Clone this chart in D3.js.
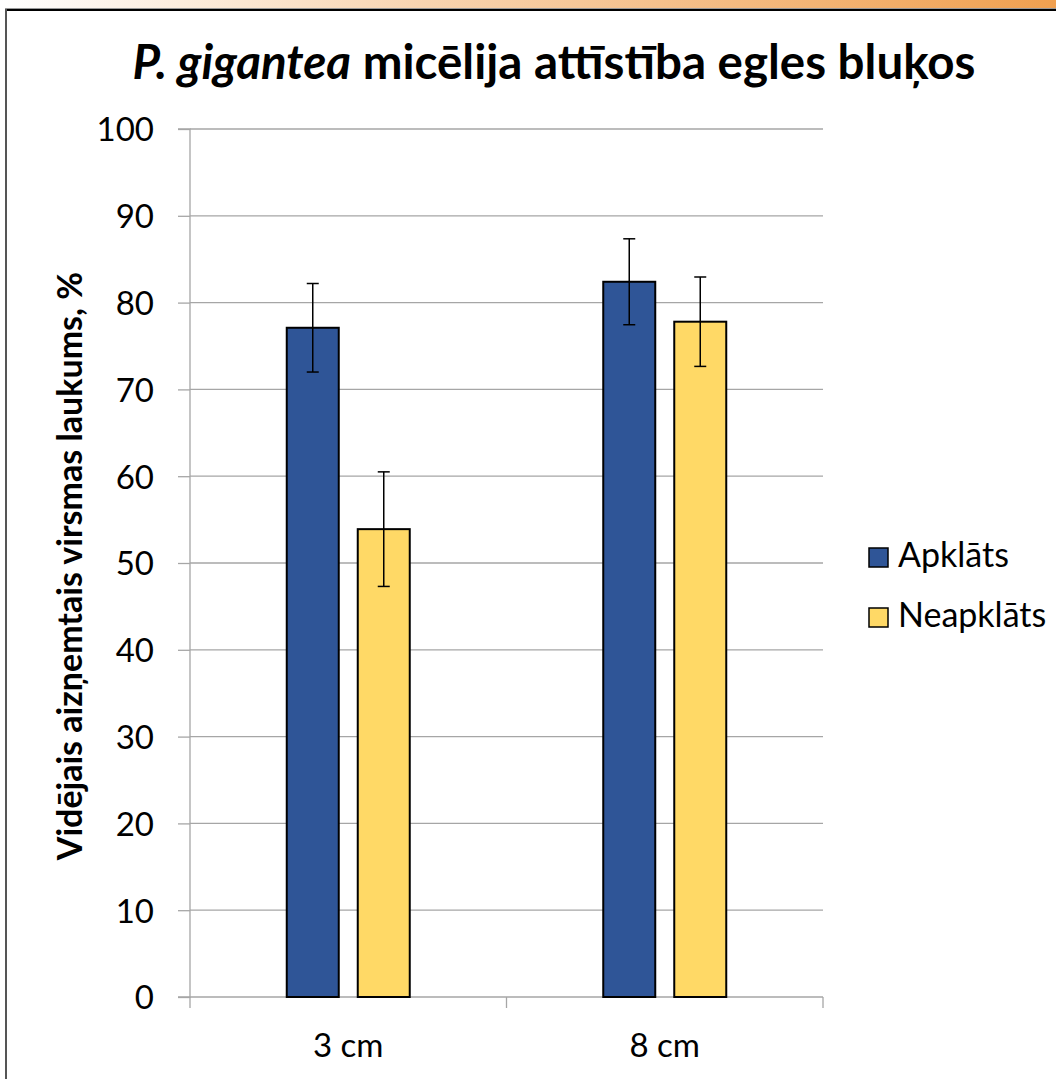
<!DOCTYPE html>
<html><head><meta charset="utf-8">
<script src="https://cdn.jsdelivr.net/npm/d3@7"></script>
<style>body{margin:0;background:#fff;}svg{display:block;}</style>
</head><body>
<script>
const categories = ["3 cm", "8 cm"];
const seriesNames = ["Apklāts", "Neapklāts"];
const apklats = [77.1, 82.4];
const neapklats = [53.9, 77.8];
const apklatsErr = [5.1, 4.95];
const neapklatsErr = [6.6, 5.15];
const yTicks = [0,10,20,30,40,50,60,70,80,90,100];
const colors = ["#2f5597", "#ffd966"];

const W = 1056, H = 1079;
const svg = d3.select("body").append("svg").attr("width", W).attr("height", H);
const font = "Lato, 'Open Sans', sans-serif";

// top gradient strip
const defs = svg.append("defs");
const g1 = defs.append("linearGradient").attr("id","strip");
g1.append("stop").attr("offset","0%").attr("stop-color","#ffffff");
g1.append("stop").attr("offset","40%").attr("stop-color","#f8d4b0");
g1.append("stop").attr("offset","100%").attr("stop-color","#f0a050");
svg.append("rect").attr("x",0).attr("y",0).attr("width",W).attr("height",8).attr("fill","url(#strip)");
svg.append("line").attr("x1",5).attr("x2",W).attr("y1",8.5).attr("y2",8.5).attr("stroke","#999");
svg.append("line").attr("x1",6).attr("x2",W).attr("y1",10).attr("y2",10).attr("stroke","#000").attr("stroke-width",2);
svg.append("line").attr("x1",6).attr("x2",6).attr("y1",9).attr("y2",H).attr("stroke","#555").attr("stroke-width",2);

const x0 = 190, x1 = 823, yTop = 129, yBot = 997;
const x = d3.scaleBand().domain(categories).range([x0, x1]);
const y = d3.scaleLinear().domain([0, 100]).range([yBot, yTop]);

// gridlines
svg.append("g").selectAll("line").data(yTicks.slice(1)).join("line")
  .attr("x1", x0).attr("x2", x1).attr("y1", d => y(d)).attr("y2", d => y(d))
  .attr("stroke", "#a6a6a6").attr("stroke-width", 1.3);

// y axis
const yAxis = d3.axisLeft(y).tickValues(yTicks).tickSize(12).tickPadding(24);
const yg = svg.append("g").attr("transform", `translate(${x0},0)`).call(yAxis);
yg.select(".domain").attr("stroke", "#a6a6a6").attr("stroke-width",1.3).attr("d", `M-12,${yTop}H0V${yBot}H-12`);
yg.selectAll(".tick line").attr("stroke", "#a6a6a6").attr("stroke-width",1.3);
yg.selectAll(".tick text").attr("font-family", font).attr("font-size", 33).attr("fill", "#000").attr("dy","0.36em");

// x axis
const xAxis = d3.axisBottom(x).tickSize(0);
const xg = svg.append("g").attr("transform", `translate(0,${yBot})`).call(xAxis);
xg.select(".domain").attr("stroke", "#a6a6a6").attr("stroke-width",1.3).attr("d", `M${x0},0H${x1}`);
xg.selectAll(".tick text").attr("font-family", font).attr("font-size", 33).attr("fill", "#000").attr("y", 60).attr("dy", 0);
// category boundary ticks
svg.append("g").selectAll("line").data([x0, x0 + x.bandwidth(), x1]).join("line")
  .attr("x1", d => d).attr("x2", d => d).attr("y1", yBot).attr("y2", yBot + 11)
  .attr("stroke", "#a6a6a6").attr("stroke-width", 1.3);

// bars
const barW = 52, innerGap = 19;
const groupW = 2 * barW + innerGap;
const seriesVals = [apklats, neapklats];
const seriesErr = [apklatsErr, neapklatsErr];
const data = [];
categories.forEach((c, i) => seriesNames.forEach((s, j) => data.push({c, s, j, v: seriesVals[j][i], e: seriesErr[j][i]})));
const bx = d => x(d.c) + x.bandwidth() / 2 - groupW / 2 + d.j * (barW + innerGap);

svg.append("g").selectAll("rect").data(data).join("rect")
  .attr("x", d => bx(d)).attr("y", d => y(d.v))
  .attr("width", barW).attr("height", d => y(0) - y(d.v))
  .attr("fill", d => colors[d.j]).attr("stroke", "#000").attr("stroke-width", 2);

// error bars
const eg = svg.append("g").attr("stroke", "#000").attr("stroke-width", 1.5);
data.forEach(d => {
  const cx = bx(d) + barW / 2;
  eg.append("line").attr("x1", cx).attr("x2", cx).attr("y1", y(d.v + d.e)).attr("y2", y(d.v - d.e));
  eg.append("line").attr("x1", cx - 6).attr("x2", cx + 6).attr("y1", y(d.v + d.e)).attr("y2", y(d.v + d.e));
  eg.append("line").attr("x1", cx - 6).attr("x2", cx + 6).attr("y1", y(d.v - d.e)).attr("y2", y(d.v - d.e));
});

// title
const t = svg.append("text").attr("x", 554).attr("y", 79).attr("text-anchor", "middle")
  .attr("font-family", font).attr("font-size", 47.5).attr("font-weight", "bold").attr("fill", "#000");
t.append("tspan").attr("font-style", "italic").text("P. gigantea");
t.append("tspan").text(" micēlija attīstība egles bluķos");

// y label
svg.append("text").attr("transform", "translate(82,566) rotate(-90)").attr("text-anchor", "middle")
  .attr("font-family", font).attr("font-size", 34).attr("font-weight", "bold").attr("fill", "#000")
  .text("Vidējais aizņemtais virsmas laukums, %");

// legend
const lg = svg.append("g").selectAll("g").data(seriesNames).join("g")
  .attr("transform", (d, i) => `translate(869,${548 + i * 60})`);
lg.append("rect").attr("width", 19).attr("height", 19).attr("fill", (d, i) => colors[i]).attr("stroke", "#000").attr("stroke-width", 1.5);
lg.append("text").attr("x", 29).attr("y", 19)
  .attr("font-family", font).attr("font-size", 34).attr("fill", "#000").text(d => d);
</script>
</body></html>
